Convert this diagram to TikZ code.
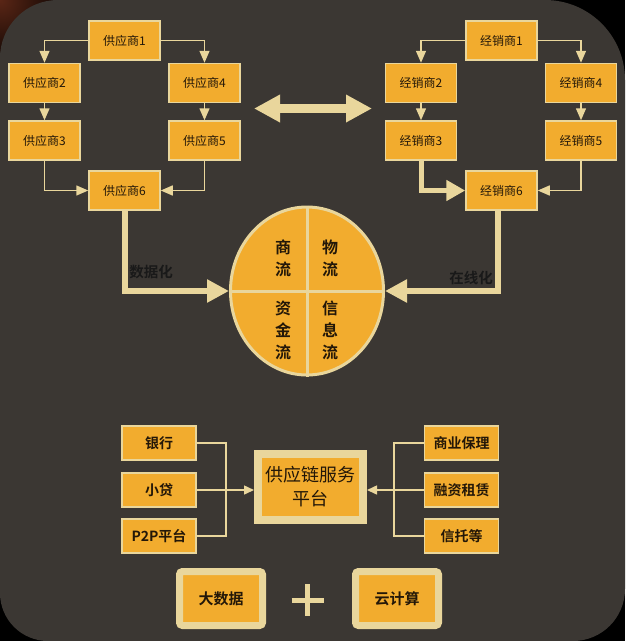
\documentclass[tikz,border=0pt]{standalone}
\usepackage{fontspec}
\setmainfont{Noto Sans CJK SC}[BoldFont={Noto Sans CJK SC Bold}]
\usetikzlibrary{arrows.meta,shapes.geometric}
\definecolor{bgc}{HTML}{3B3733}
\definecolor{org}{HTML}{F2AC2E}
\definecolor{tan}{HTML}{E9D69C}
\definecolor{txt}{HTML}{231708}
\definecolor{rust}{HTML}{5A2616}
\tikzset{
  sbox/.style={rectangle,fill=org,draw=tan,line width=1.5pt,minimum width=71pt,minimum height=39pt,inner sep=0pt,text=txt,font=\fontsize{12}{14}\selectfont},
  fbox/.style={rectangle,fill=org,draw=tan,line width=1.5pt,minimum width=74pt,minimum height=34pt,inner sep=0pt,text=txt,font=\bfseries\fontsize{14}{16}\selectfont},
  tbox/.style={rectangle,rounded corners=3pt,fill=org,draw=tan,line width=7pt,minimum width=83pt,minimum height=54pt,inner sep=0pt,text=txt,font=\bfseries\fontsize{15}{17}\selectfont},
  thinln/.style={draw=tan,line width=1.5pt},
  thinarr/.style={thinln,-{Triangle[length=12pt,width=10pt]}},
  smallarr/.style={thinln,-{Triangle[length=10pt,width=9pt]}},
  thickarr/.style={draw=tan,line width=6pt,-{Triangle[length=22pt,width=22pt]}},
  midarr/.style={draw=tan,line width=5pt,-{Triangle[length=19pt,width=20pt]}},
  flowtxt/.style={text=txt,font=\bfseries\fontsize{16}{22}\selectfont,align=center,inner sep=0pt},
  lbl/.style={text=black!90,font=\bfseries\fontsize{14.5}{16}\selectfont,inner sep=0pt}
}
\begin{document}
\begin{tikzpicture}[x=1pt,y=-1pt]
\useasboundingbox (0,0) rectangle (625,641);
% background
\fill[black] (0,0) rectangle (625,641);
\shade[inner color=rust,outer color=black] (0,0) circle (75);
\fill[bgc] (58,0) -- (545,0) arc[start angle=90,end angle=0,radius=80pt]
  -- (625,589) arc[start angle=0,end angle=-90,radius=52pt]
  -- (48,641) arc[start angle=-90,end angle=-180,radius=48pt]
  -- (0,58) arc[start angle=180,end angle=90,radius=58pt] -- cycle;

% supplier network
\node[sbox] (s1) at (124.5,40.5) {供应商1};
\node[sbox] (s2) at (44.5,83) {供应商2};
\node[sbox] (s4) at (204.5,83) {供应商4};
\node[sbox] (s3) at (44.5,140.5) {供应商3};
\node[sbox] (s5) at (204.5,140.5) {供应商5};
\node[sbox] (s6) at (124.5,190.5) {供应商6};
\draw[thinarr] (s1.west) -| (s2.north);
\draw[thinarr] (s1.east) -| (s4.north);
\draw[thinarr] (s2.south) -- (s3.north);
\draw[thinarr] (s4.south) -- (s5.north);
\draw[thinarr] (s3.south) |- (s6.west);
\draw[thinarr] (s5.south) |- (s6.east);

% distributor network
\node[sbox] (d1) at (501.5,40.5) {经销商1};
\node[sbox] (d2) at (421,83) {经销商2};
\node[sbox] (d4) at (581,83) {经销商4};
\node[sbox] (d3) at (421,140.5) {经销商3};
\node[sbox] (d5) at (581,140.5) {经销商5};
\node[sbox] (d6) at (501.5,190.5) {经销商6};
\draw[thinarr] (d1.west) -| (d2.north);
\draw[thinarr] (d1.east) -| (d4.north);
\draw[thinarr] (d2.south) -- (d3.north);
\draw[thinarr] (d4.south) -- (d5.north);
\draw[midarr] (d3.south) |- (d6.west);
\draw[thinarr] (d5.south) |- (d6.east);

% double arrow
\coordinate (dl) at (254,108.5);
\coordinate (dr) at (372,108.5);
\draw[draw=tan,line width=9pt,{Triangle[length=26pt,width=26pt]}-{Triangle[length=26pt,width=26pt]}] (dl) -- (dr);

% four flows
\node[ellipse,fill=org,draw=tan,line width=3pt,minimum width=153pt,minimum height=168pt,inner sep=0pt] (flow) at (307,291) {};
\draw[tan,line width=3pt] (flow.north) -- (flow.south);
\draw[tan,line width=3pt] (flow.west) -- (flow.east);
\node[flowtxt] (f1) at (283,258.5) {商\\流};
\node[flowtxt] (f2) at (330,258.5) {物\\流};
\node[flowtxt] (f3) at (283,330) {资\\金\\流};
\node[flowtxt] (f4) at (330,330) {信\\息\\流};

\draw[thickarr] (s6.south) |- (flow.west);
\draw[thickarr] ([xshift=-4pt]d6.south) |- (flow.east);
\node[lbl] (l1) at (151,272) {数据化};
\node[lbl] (l2) at (471,278) {在线化};

% finance platform
\node[fbox] (bank) at (159,443) {银行};
\node[fbox] (loan) at (159,490) {小贷};
\node[fbox] (p2p) at (159,536) {P2P平台};
\node[fbox] (fac) at (461.5,443) {商业保理};
\node[fbox] (lease) at (461.5,490) {融资租赁};
\node[fbox] (trust) at (461.5,536) {信托等};
\node[rectangle,fill=org,draw=tan,line width=8pt,minimum width=105pt,minimum height=66pt,inner sep=0pt,text=txt,align=center,font=\fontsize{18}{24}\selectfont] (plat) at (310.5,486.5) {供应链服务\\平台};
\coordinate (jl) at (226,488);
\coordinate (jr) at (394,488);
\draw[thinln] (bank.east) -| (jl);
\draw[thinln] (p2p.east) -| (jl);
\draw[smallarr] (loan.east) -- (loan.east -| plat.west);
\draw[thinln] (fac.west) -| (jr);
\draw[thinln] (trust.west) -| (jr);
\draw[smallarr] (lease.west) -- (lease.west -| plat.east);

% bottom
\node[tbox] (bd) at (221,598.5) {大数据};
\node[tbox] (cc) at (397,598.5) {云计算};
\coordinate (pc) at (307.5,600);
\draw[tan,line width=5pt] ([xshift=-16pt]pc) -- ([xshift=16pt]pc);
\draw[tan,line width=5pt] ([yshift=-16pt]pc) -- ([yshift=16pt]pc);
\end{tikzpicture}
\end{document}
